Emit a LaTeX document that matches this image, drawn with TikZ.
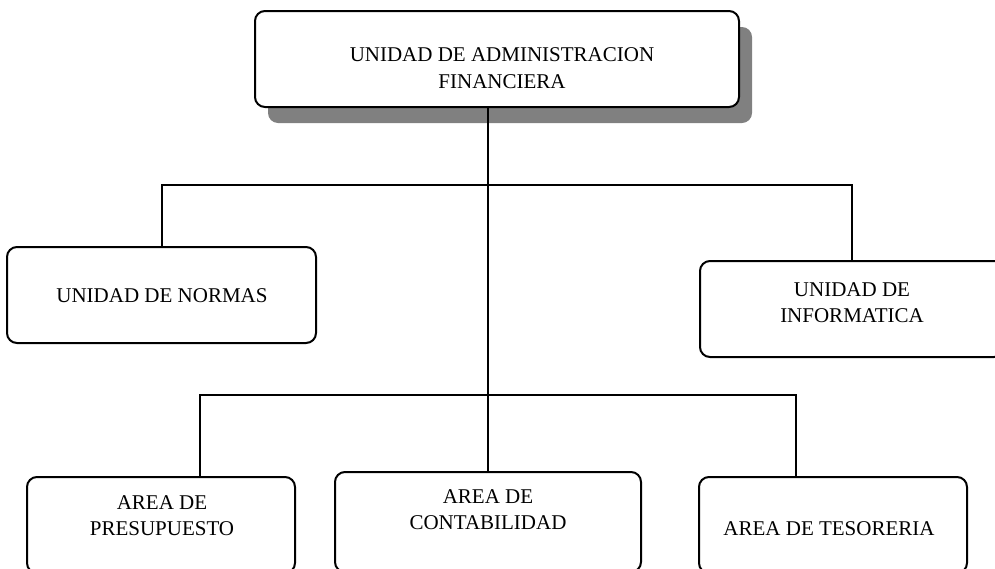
\documentclass[tikz,border=0pt]{standalone}
\usepackage{fontspec}
\setmainfont{Liberation Serif}
\tikzset{
  unitbox/.style={draw, line width=2pt, rounded corners=10pt, fill=white, inner sep=0pt},
  unitshade/.style={fill=black!50, rounded corners=10pt, inner sep=0pt},
  unittext/.style={align=center, inner sep=0pt, font=\fontsize{21}{26}\selectfont},
  link/.style={line width=2pt}
}
\begin{document}
\begin{tikzpicture}[x=1pt, y=-1pt]
\clip (0,0) rectangle (995,568);
\node[unitshade, minimum width=484pt, minimum height=96pt] at (510,75) (admshade) {};
\node[unitbox, minimum width=484pt, minimum height=96pt] at (497,59) (adm) {};
\node[unitbox, minimum width=309pt, minimum height=96pt] at (161.5,295) (normas) {};
\node[unitbox, minimum width=304pt, minimum height=96pt] at (852,309) (info) {};
\node[unitbox, minimum width=268pt, minimum height=96pt] at (161,525) (pres) {};
\node[unitbox, minimum width=306pt, minimum height=100pt] at (488,522) (cont) {};
\node[unitbox, minimum width=268pt, minimum height=96pt] at (833,525) (teso) {};
\node[unittext, font=\fontsize{21}{27}\selectfont] at (502,68) (admtxt) {UNIDAD DE ADMINISTRACION\\FINANCIERA};
\node[unittext] at (162,295.5) (normastxt) {UNIDAD DE NORMAS};
\node[unittext] at (852,302.5) (infotxt) {UNIDAD DE\\INFORMATICA};
\node[unittext] at (162,516) (prestxt) {AREA DE\\PRESUPUESTO};
\node[unittext] at (488,510) (conttxt) {AREA DE\\CONTABILIDAD};
\node[unittext] at (829,528.5) (tesotxt) {AREA DE TESORERIA};
\coordinate (upbar) at (488,185);
\coordinate (lowbar) at (488,395);
\draw[link] (adm.south -| cont.north) -- (cont.north);
\draw[link] (normas.north) |- (upbar) -| (info.north);
\draw[link] ([xshift=39pt]pres.north) |- (lowbar) -| ([xshift=-37pt]teso.north);
\end{tikzpicture}
\end{document}
